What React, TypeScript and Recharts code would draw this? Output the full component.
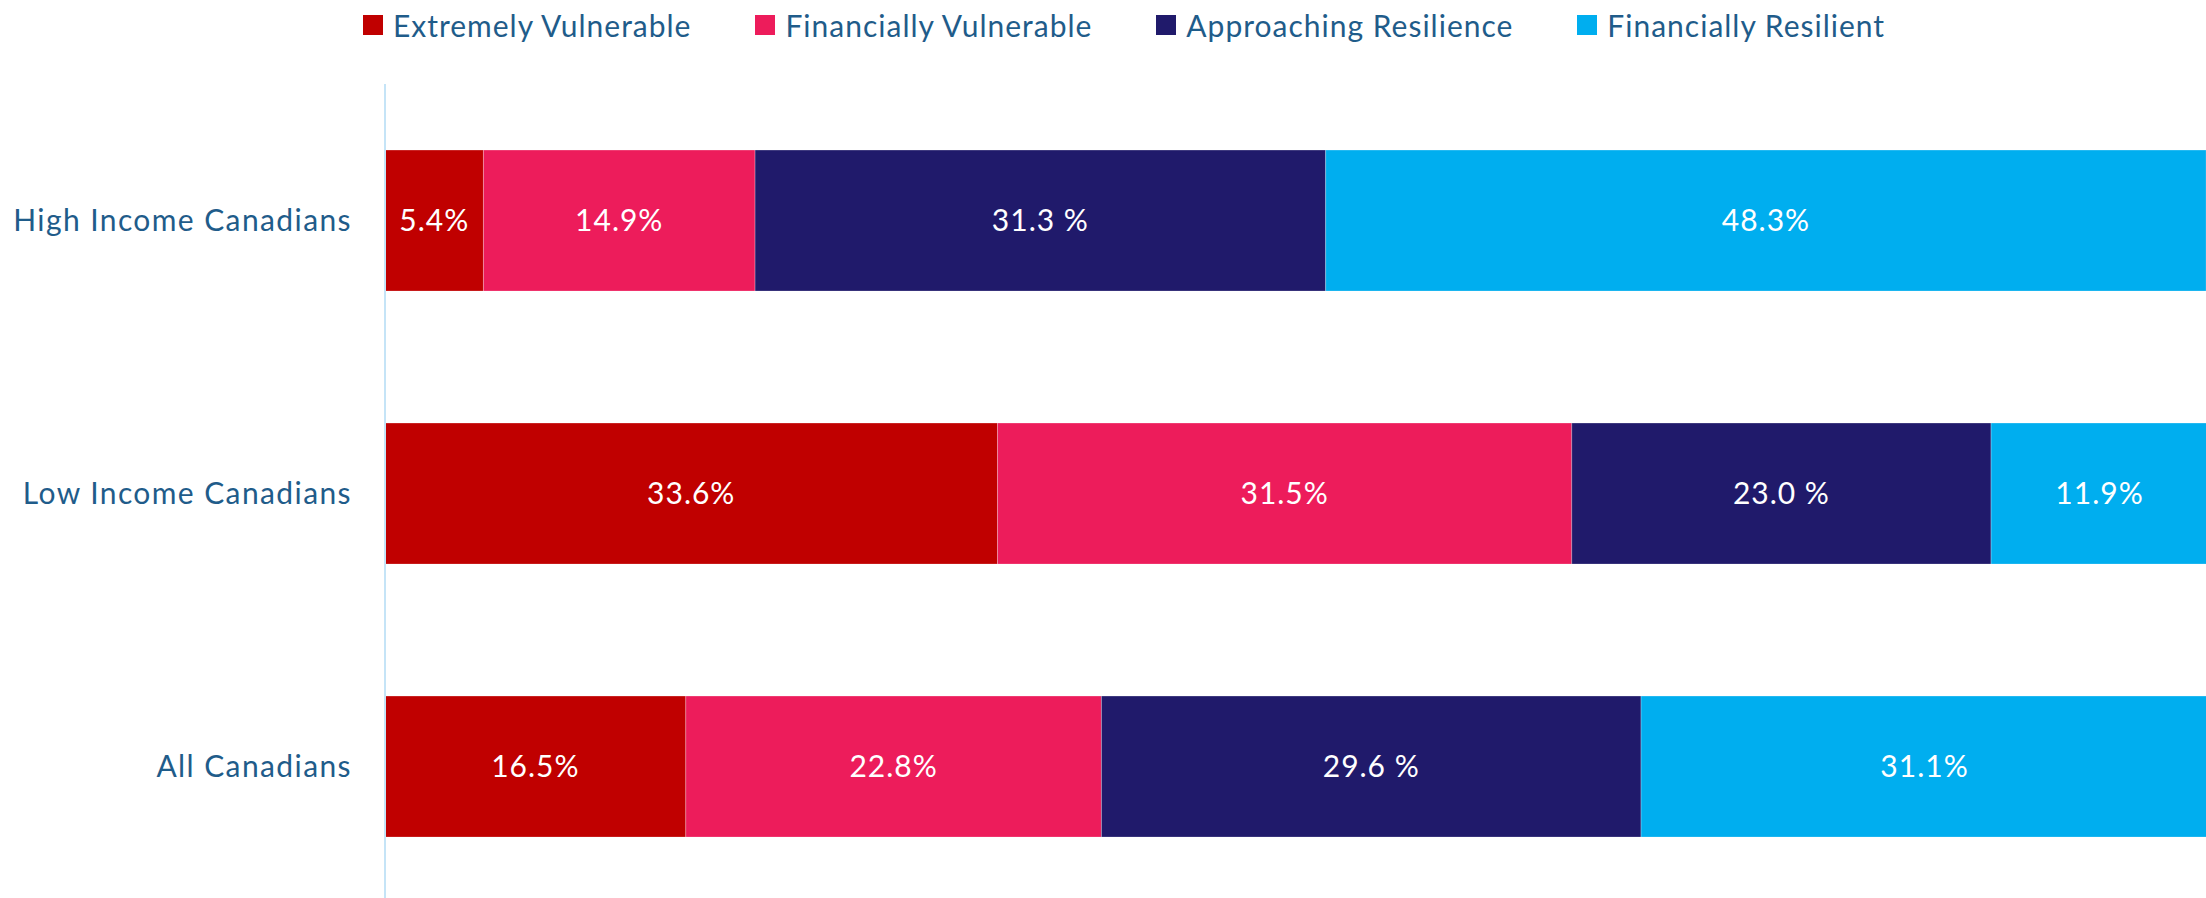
import React from "react";
import { BarChart, Bar, XAxis, YAxis, Legend, LabelList } from "recharts";

const categories = ["High Income Canadians", "Low Income Canadians", "All Canadians"];
const extremelyVulnerable = [5.4, 33.6, 16.5];
const financiallyVulnerable = [14.9, 31.5, 22.8];
const approachingResilience = [31.3, 23.0, 29.6];
const financiallyResilient = [48.3, 11.9, 31.1];

const seriesNames = ["Extremely Vulnerable", "Financially Vulnerable", "Approaching Resilience", "Financially Resilient"];
const seriesKeys = ["ev", "fv", "ar", "fr"];
const seriesColors = ["#C00000", "#ED1C5B", "#201A6B", "#00AEEF"];
const labelSuffix = ["%", "%", " %", "%"];

const data = categories.map((c, i) => ({
  name: c,
  ev: extremelyVulnerable[i],
  fv: financiallyVulnerable[i],
  ar: approachingResilience[i],
  fr: financiallyResilient[i],
}));

const FONT = "Lato, 'Open Sans', sans-serif";
const TEXT = "#1F5C8A";

const CustomLegend = () => (
  <div
    style={{
      height: 50,
      display: "flex",
      justifyContent: "center",
      alignItems: "center",
      fontFamily: FONT,
      fontSize: 30,
      letterSpacing: 1.0,
      color: TEXT,
      paddingLeft: 38,
      boxSizing: "border-box",
    }}
  >
    {seriesNames.map((n, i) => (
      <div key={n} style={{ display: "flex", alignItems: "center", marginRight: i < 3 ? 64 : 0 }}>
        <span style={{ width: 20, height: 20, background: seriesColors[i], marginRight: 10, display: "inline-block" }} />
        <span>{n}</span>
      </div>
    ))}
  </div>
);

export default function App() {
  return (
    <div style={{ position: "absolute", left: 0, top: 0 }}>
      <BarChart
        width={2210}
        height={905}
        data={data}
        layout="vertical"
        margin={{ top: 34, right: 2, left: 0, bottom: 2 }}
        barCategoryGap="24.2%"
      >
        <Legend verticalAlign="top" content={<CustomLegend />} wrapperStyle={{ top: 0, left: 0, width: 2210 }} />
        <XAxis type="number" domain={[0, 100]} hide />
        <YAxis
          type="category"
          dataKey="name"
          width={385}
          tickLine={false}
          tickMargin={27}
          axisLine={{ stroke: "#C5E4F7", strokeWidth: 2 }}
          tick={{ fontSize: 30, fill: TEXT, fontFamily: FONT, letterSpacing: 1.4 }}
        />
        {seriesKeys.map((k, i) => (
          <Bar key={k} dataKey={k} stackId="a" fill={seriesColors[i]} isAnimationActive={false} stroke="rgba(255,255,255,0.25)" strokeWidth={1}>
            <LabelList
              dataKey={k}
              position="center"
              fill="#FFFFFF"
              style={{ fontSize: 30, fontFamily: FONT, letterSpacing: 1 }}
              formatter={(v: number) => `${v.toFixed(1)}${labelSuffix[i]}`}
            />
          </Bar>
        ))}
      </BarChart>
    </div>
  );
}
